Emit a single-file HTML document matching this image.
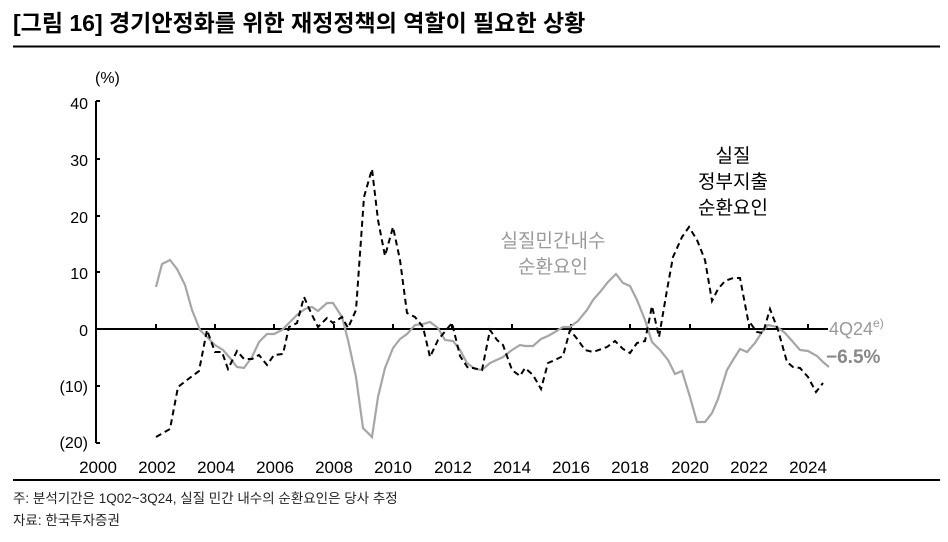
<!DOCTYPE html>
<html><head><meta charset="utf-8"><style>
body{margin:0;background:#fff;}
svg{display:block;font-family:"Liberation Sans","Noto Sans CJK KR",sans-serif;}
</style></head><body>
<svg width="948" height="542" viewBox="0 0 948 542" xmlns="http://www.w3.org/2000/svg">
<text x="13" y="31" font-size="23" font-weight="bold" fill="#000">[그림 16] 경기안정화를 위한 재정정책의 역할이 필요한 상황</text>
<line x1="13" y1="46.5" x2="940" y2="46.5" stroke="#000" stroke-width="2"/>
<line x1="13" y1="480" x2="940" y2="480" stroke="#000" stroke-width="2"/>
<text x="13" y="503" font-size="13.5" fill="#222">주: 분석기간은 1Q02~3Q24, 실질 민간 내수의 순환요인은 당사 추정</text>
<text x="13" y="525" font-size="13.5" fill="#222">자료: 한국투자증권</text>
<g font-size="16" fill="#000">
<text x="95" y="83">(%)</text>
<text x="88" y="109" text-anchor="end">40</text>
<text x="88" y="166" text-anchor="end">30</text>
<text x="88" y="223" text-anchor="end">20</text>
<text x="88" y="279" text-anchor="end">10</text>
<text x="88" y="336" text-anchor="end">0</text>
<text x="88" y="392" text-anchor="end">(10)</text>
<text x="88" y="448" text-anchor="end">(20)</text>
</g>
<g font-size="17" fill="#000" text-anchor="middle">
<text x="98" y="473">2000</text><text x="157" y="473">2002</text><text x="216" y="473">2004</text><text x="275" y="473">2006</text><text x="334" y="473">2008</text><text x="393" y="473">2010</text><text x="453" y="473">2012</text><text x="512" y="473">2014</text><text x="571" y="473">2016</text><text x="630" y="473">2018</text><text x="690" y="473">2020</text><text x="749" y="473">2022</text><text x="808" y="473">2024</text>
</g>
<g stroke="#000" stroke-width="2">
<line x1="96" y1="101" x2="96" y2="443"/>
<line x1="96" y1="101" x2="100" y2="101"/><line x1="96" y1="159" x2="100" y2="159"/><line x1="96" y1="216" x2="100" y2="216"/><line x1="96" y1="272" x2="100" y2="272"/><line x1="96" y1="386" x2="100" y2="386"/><line x1="96" y1="443" x2="100" y2="443"/>
<line x1="96" y1="329" x2="828" y2="329"/>
<path d="M156 329v-5M215 329v-5M274 329v-5M334 329v-5M393 329v-5M452 329v-5M512 329v-5M571 329v-5M630 329v-5M690 329v-5M749 329v-5M808 329v-5"/>
</g>
<polyline fill="none" stroke="#a6a6a6" stroke-width="2.2" points="156,287 162,264 170,260 177,269 185,285 192,310 200,330 207,337 215,345 223,350 230,358 237,367 244,368 252,357 259,342 267,334 274,334 282,330 289,323 297,315 305,309 312,307 318,311 327,303 333,303 342,317 348,340 356,377 363,428 372,437 378,397 385,368 393,348 400,339 407,334 415,325 423,324 430,322 438,328 445,340 453,341 460,350 467,363 475,369 482,370 490,363 503,357 512,350 520,345 525,346 533,346 541,339 548,336 555,332 563,327 570,327 578,321 587,310 593,300 600,292 608,282 616,274 623,283 630,286 637,300 645,320 652,342 660,350 668,360 675,374 682,371 690,397 697,422 705,422 712,413 718,399 727,370 733,360 740,349 747,352 755,343 762,332 768,325 777,327 785,333 793,342 800,350 808,351 817,356 823,362 829,367"/>
<polyline fill="none" stroke="#000" stroke-width="2" stroke-dasharray="6,4" points="156,437 170,429 178,387 187,380 199,371 207,330 215,352 222,352 228,369 237,351 244,359 252,359 259,355 267,365 274,355 283,354 289,327 297,323 304,297 312,315 318,327 327,318 333,323 342,317 348,328 356,310 364,197 372,169 378,220 385,256 393,227 400,260 407,313 415,317 423,327 430,357 438,340 452,323 460,356 468,368 473,368 482,370 490,330 497,340 503,345 512,370 520,376 525,368 533,375 541,389 548,363 555,360 563,356 570,330 578,340 585,350 593,352 607,347 615,341 623,349 630,353 637,343 645,341 652,306 659,337 667,290 673,257 682,237 689,227 697,240 705,260 712,301 718,289 725,281 733,278 740,278 748,320 757,332 763,333 770,309 778,330 787,362 793,367 800,368 808,377 816,392 823,383"/>
<g font-size="19" text-anchor="middle">
<text x="553" y="247" fill="#999">실질민간내수</text>
<text x="553" y="273" fill="#999">순환요인</text>
<text x="733" y="162" fill="#000">실질</text>
<text x="733" y="188" fill="#000">정부지출</text>
<text x="733" y="214" fill="#000">순환요인</text>
</g>
<text x="829" y="335" font-size="18" fill="#999">4Q24<tspan font-size="12" dy="-8">e)</tspan></text>
<text x="826" y="363" font-size="19" font-weight="bold" fill="#888">−6.5%</text>
</svg>
</body></html>
